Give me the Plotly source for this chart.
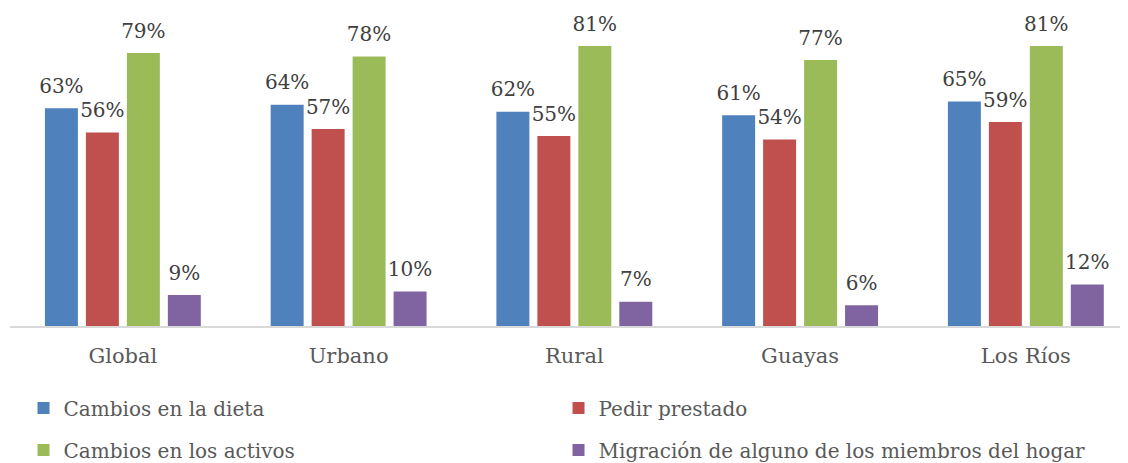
import plotly.graph_objects as go

categories = ["Global", "Urbano", "Rural", "Guayas", "Los Ríos"]
series_names = ["Cambios en la dieta", "Pedir prestado", "Cambios en los activos",
                "Migración de alguno de los miembros del hogar"]
dieta = [63, 64, 62, 61, 65]
prestado = [56, 57, 55, 54, 59]
activos = [79, 78, 81, 77, 81]
migracion = [9, 10, 7, 6, 12]
colors = ["#4F81BD", "#C0504D", "#9BBB59", "#8064A2"]
legend_rows = ["legend", "legend", "legend2", "legend2"]

FONT = "DejaVu Serif"
TXT = "#404040"
GREY = "#595959"

fig = go.Figure()
xs = list(range(len(categories)))
all_vals = [dieta, prestado, activos, migracion]
for k, (name, vals, col, lg) in enumerate(zip(series_names, all_vals, colors, legend_rows)):
    fig.add_trace(go.Bar(
        x=xs, y=vals, name=name, marker_color=col, marker_line_width=0,
        offsetgroup=str(k), legend=lg,
    ))
for k, vals in enumerate(all_vals):
    fig.add_trace(go.Scatter(
        x=xs, y=vals, mode="markers+text", showlegend=False, hoverinfo="skip",
        offsetgroup=str(k), cliponaxis=False,
        marker=dict(size=15, color="rgba(0,0,0,0)"),
        text=[f"{v}%" for v in vals], textposition="top center",
        textfont=dict(family=FONT, size=20, color=TXT),
    ))

leg_common = dict(orientation="h", x=0.012, xanchor="left", yref="container",
                  yanchor="middle", entrywidth=490, entrywidthmode="pixels",
                  itemwidth=30, font=dict(family=FONT, size=20, color=GREY),
                  traceorder="normal", bgcolor="rgba(0,0,0,0)")

fig.update_layout(
    width=1128, height=463,
    margin=dict(l=2, r=0, t=7, b=145, autoexpand=False),
    paper_bgcolor="white", plot_bgcolor="white",
    barmode="group", bargap=0.274, bargroupgap=0.195,
    scattermode="group", scattergap=0.274,
    font=dict(family=FONT, size=21, color=GREY),
    xaxis=dict(tickvals=xs, ticktext=categories, range=[-0.5, 4.488],
               showline=True, linecolor="#D9D9D9", linewidth=2,
               showgrid=False, zeroline=False, ticks="", ticklabelstandoff=10,
               tickfont=dict(family=FONT, size=21, color=GREY)),
    yaxis=dict(range=[0, 90], visible=False, showgrid=False, zeroline=False),
    showlegend=True,
    legend=dict(leg_common, y=1 - 400 / 463),
    legend2=dict(leg_common, y=1 - 442 / 463),
)

fig.write_html("out.html")
